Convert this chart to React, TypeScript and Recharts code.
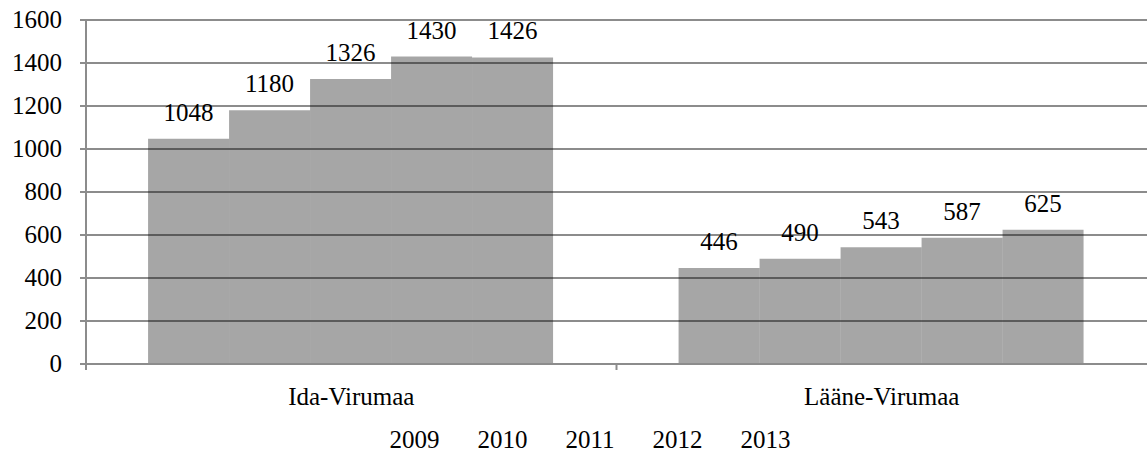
import React from 'react';
import { BarChart, Bar, XAxis, YAxis, CartesianGrid, Legend, LabelList } from 'recharts';

const regions = ['Ida-Virumaa', 'Lääne-Virumaa'];
const years = ['2009', '2010', '2011', '2012', '2013'];
const values2009 = [1048, 446];
const values2010 = [1180, 490];
const values2011 = [1326, 543];
const values2012 = [1430, 587];
const values2013 = [1426, 625];
const yTicks = [0, 200, 400, 600, 800, 1000, 1200, 1400, 1600];

const seriesValues = [values2009, values2010, values2011, values2012, values2013];

const data = regions.map((name, i) => {
  const row: { [key: string]: string | number } = { name };
  years.forEach((y, s) => {
    row[y] = seriesValues[s][i];
  });
  return row;
});

const FONT = "'Liberation Serif'";
const FONT_SIZE = 25;
const AXIS_GREY = '#8c8c8c';
const textStyle = { fontFamily: FONT, fontSize: FONT_SIZE };

// y tick: right aligned text, vertically centered
const YTick = (props: any) => {
  const { x, y, payload } = props;
  return (
    <text x={x} y={y} dy={8} textAnchor="end" fill="#000" style={textStyle}>
      {payload.value}
    </text>
  );
};

// category label plus Excel-style tick marks between categories
const XTick = (props: any) => {
  const { x, y, payload, width, visibleTicksCount } = props;
  const half = width / visibleTicksCount / 2;
  return (
    <g>
      <line x1={x - half} x2={x - half} y1={y - 16} y2={y - 10} stroke={AXIS_GREY} strokeWidth={2} />
      <text x={x} y={y} dy={25} textAnchor="middle" fill="#000" style={textStyle}>
        {payload.value}
      </text>
    </g>
  );
};

const BarLabel = (props: any) => {
  const { x, y, width, value } = props;
  return (
    <text x={x + width / 2} y={y} dy={-18} textAnchor="middle" fill="#000" style={textStyle}>
      {value}
    </text>
  );
};

const renderLegend = (props: any) => {
  const { payload } = props;
  return (
    <div style={{ display: 'flex', justifyContent: 'center', paddingLeft: 33, paddingTop: 10, gap: 38, ...textStyle, color: '#000', lineHeight: '28px' }}>
      {payload.map((p: any) => (
        <span key={p.value}>{p.value}</span>
      ))}
    </div>
  );
};

const App: React.FC = () => {
  return (
    <div style={{ position: 'fixed', left: 0, top: 0, background: '#fff' }}>
      <BarChart
        width={1147}
        height={466}
        data={data}
        margin={{ top: 20, right: 0, left: 0, bottom: 0 }}
        barCategoryGap="11.7%"
        barGap={0}
      >
        <CartesianGrid vertical={false} stroke={AXIS_GREY} strokeWidth={2} />
        <XAxis
          dataKey="name"
          axisLine={{ stroke: AXIS_GREY, strokeWidth: 2 }}
          tickLine={false}
          tickSize={0}
          tickMargin={16}
          height={52}
          tick={<XTick />}
        />
        <YAxis
          domain={[0, 1600]}
          ticks={yTicks}
          width={86}
          axisLine={{ stroke: AXIS_GREY, strokeWidth: 2 }}
          tickLine={{ stroke: AXIS_GREY, strokeWidth: 2 }}
          tickSize={6}
          tickMargin={18}
          interval={0}
          tick={<YTick />}
        />
        <Legend verticalAlign="bottom" height={50} content={renderLegend} />
        {years.map((y) => (
          <Bar key={y} dataKey={y} fill="#000" fillOpacity={0.35} isAnimationActive={false}>
            <LabelList dataKey={y} content={<BarLabel />} />
          </Bar>
        ))}
      </BarChart>
    </div>
  );
};

export default App;
